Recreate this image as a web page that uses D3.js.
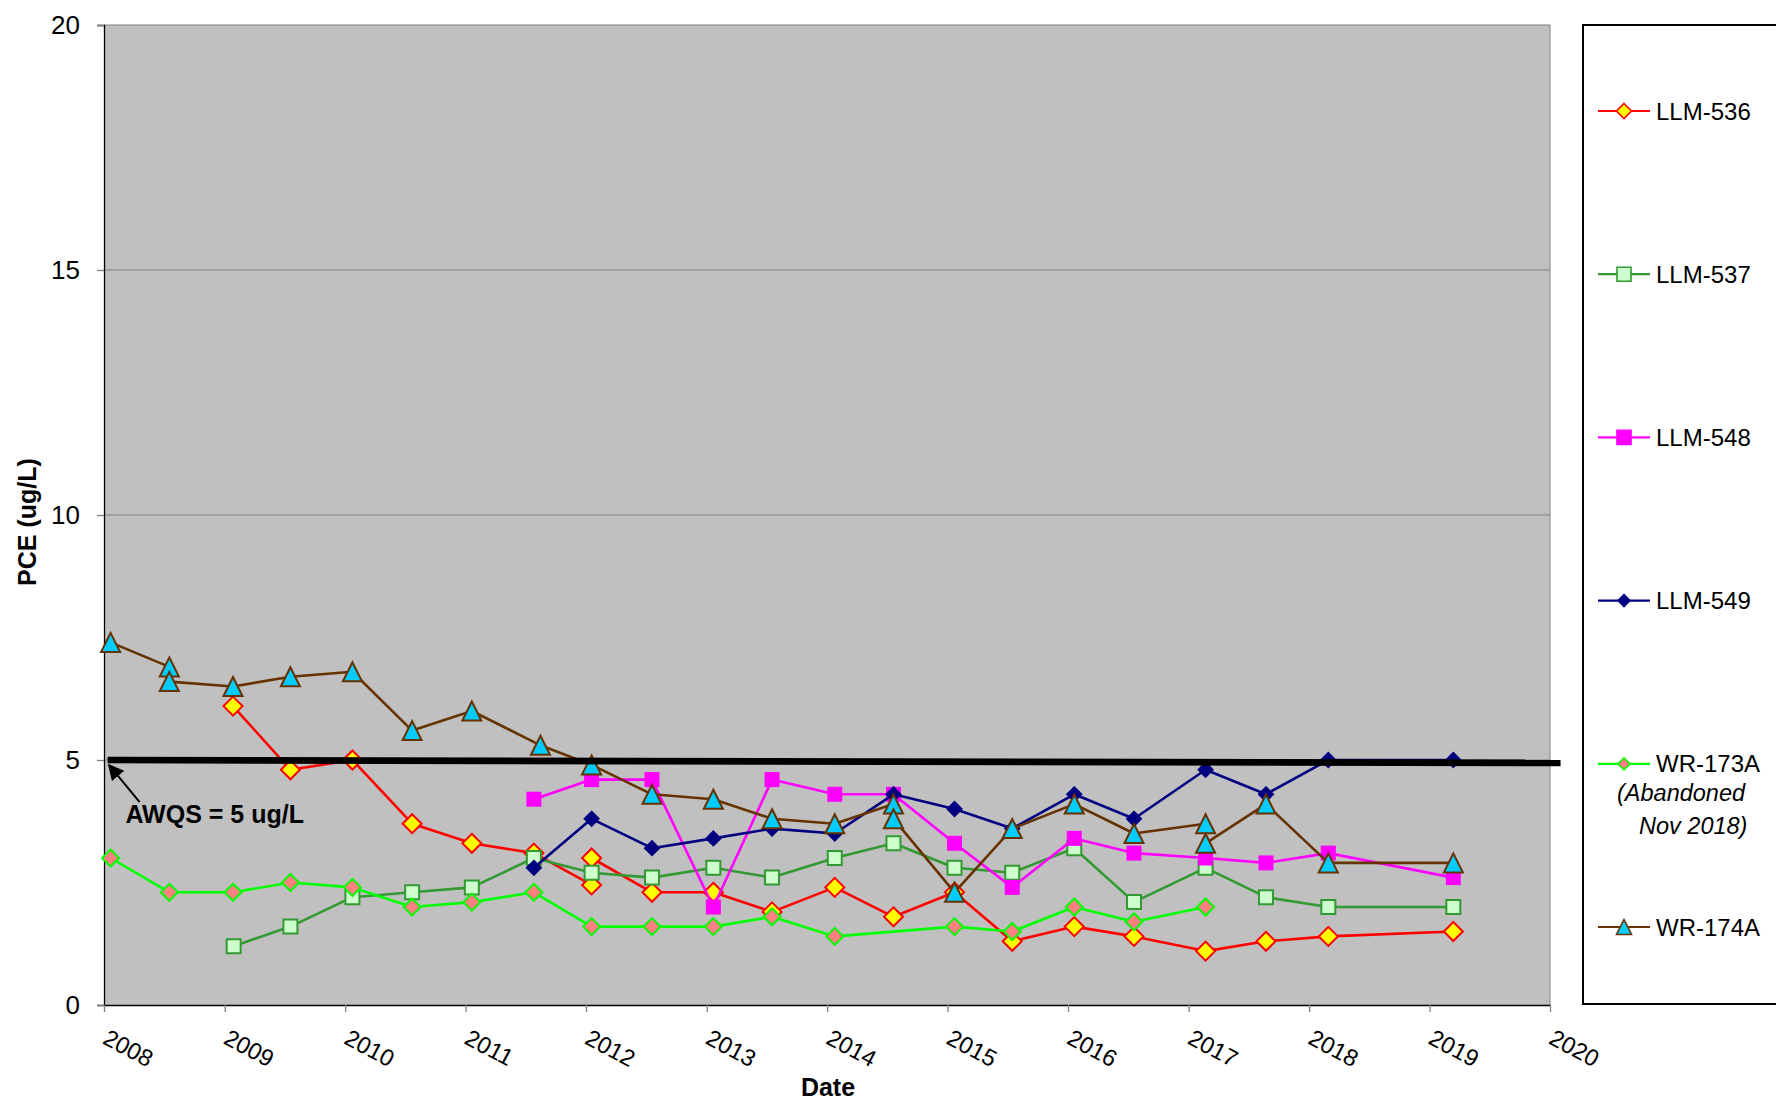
<!DOCTYPE html>
<html>
<head>
<meta charset="utf-8">
<script src="https://cdn.jsdelivr.net/npm/d3@7/dist/d3.min.js"></script>
<style>
  html, body { margin: 0; padding: 0; background: #fff; }
  svg { display: block; font-family: "Liberation Sans", Arial, sans-serif; }
</style>
</head>
<body>
<div id="chart"></div>
<script>
// sample data (PCE, ug/L)
const llm536Dates = ["2009-01-26", "2009-07-19", "2010-01-23", "2010-07-23", "2011-01-20", "2011-07-27", "2012-01-18", "2012-01-18", "2012-07-19", "2013-01-21", "2013-07-18", "2014-01-24", "2014-07-21", "2015-01-22", "2015-07-16", "2016-01-20", "2016-07-19", "2017-02-21", "2017-08-23", "2018-02-28", "2019-03-14"]
const llm536Values = [6.1, 4.8, 5.0, 3.7, 3.3, 3.1, 2.45, 3.0, 2.3, 2.3, 1.9, 2.4, 1.8, 2.3, 1.3, 1.6, 1.4, 1.1, 1.3, 1.4, 1.5]

const llm537Dates = ["2009-01-28", "2009-07-19", "2010-01-23", "2010-07-23", "2011-01-20", "2011-07-27", "2012-01-18", "2012-07-19", "2013-01-21", "2013-07-18", "2014-01-24", "2014-07-21", "2015-01-22", "2015-07-16", "2016-01-20", "2016-07-19", "2017-02-21", "2017-08-23", "2018-02-28", "2019-03-14"]
const llm537Values = [1.2, 1.6, 2.2, 2.3, 2.4, 3.0, 2.7, 2.6, 2.8, 2.6, 3.0, 3.3, 2.8, 2.7, 3.2, 2.1, 2.8, 2.2, 2.0, 2.0]

const llm548Dates = ["2011-07-27", "2012-01-18", "2012-07-19", "2013-01-21", "2013-07-18", "2014-01-24", "2014-07-21", "2015-01-22", "2015-07-16", "2016-01-20", "2016-07-19", "2017-02-21", "2017-08-23", "2018-02-28", "2019-03-14"]
const llm548Values = [4.2, 4.6, 4.6, 2.0, 4.6, 4.3, 4.3, 3.3, 2.4, 3.4, 3.1, 3.0, 2.9, 3.1, 2.6]

const llm549Dates = ["2011-07-27", "2012-01-18", "2012-07-19", "2013-01-21", "2013-07-18", "2014-01-24", "2014-07-21", "2015-01-22", "2015-07-16", "2016-01-20", "2016-07-19", "2017-02-21", "2017-08-23", "2018-02-28", "2019-03-14"]
const llm549Values = [2.8, 3.8, 3.2, 3.4, 3.6, 3.5, 4.3, 4.0, 3.6, 4.3, 3.8, 4.8, 4.3, 5.0, 5.0]

const wr173aDates = ["2008-01-21", "2008-07-17", "2009-01-26", "2009-07-19", "2010-01-23", "2010-07-23", "2011-01-20", "2011-07-27", "2012-01-18", "2012-07-19", "2013-01-21", "2013-07-18", "2014-01-24", "2015-01-22", "2015-07-16", "2016-01-20", "2016-07-19", "2017-02-21"]
const wr173aValues = [3.0, 2.3, 2.3, 2.5, 2.4, 2.0, 2.1, 2.3, 1.6, 1.6, 1.6, 1.8, 1.4, 1.6, 1.5, 2.0, 1.7, 2.0]

const wr174aDates = ["2008-01-21", "2008-07-17", "2008-07-17", "2009-01-26", "2009-07-19", "2010-01-23", "2010-07-23", "2011-01-20", "2011-08-16", "2012-01-18", "2012-07-19", "2013-01-21", "2013-07-18", "2014-01-24", "2014-07-21", "2014-07-21", "2015-01-22", "2015-07-16", "2016-01-20", "2016-07-19", "2017-02-21", "2017-02-21", "2017-08-23", "2018-02-28", "2019-03-14"]
const wr174aValues = [7.4, 6.9, 6.6, 6.5, 6.7, 6.8, 5.6, 6.0, 5.3, 4.9, 4.3, 4.2, 3.8, 3.7, 4.1, 3.8, 2.3, 3.6, 4.1, 3.5, 3.7, 3.3, 4.1, 2.9, 2.9]

// AWQS standard line + label
const awqsDates = ["2008-01-12", "2020-02-02"]
const awqsValues = [5.0, 4.94]
const awqsLabel = "AWQS = 5 ug/L"

const seriesNames = ["LLM-536", "LLM-537", "LLM-548", "LLM-549", "WR-173A", "WR-174A"]
const yTicks = [0, 5, 10, 15, 20]
const xYears = d3.range(2008, 2021)

const width = 1776, height = 1101
const margin = { top: 25, right: 226, bottom: 96, left: 104 }
const plotW = 1550 - margin.left
const plotH = 1005 - margin.top

const parse = d3.timeParse("%Y-%m-%d")

const styles = {
  "LLM-536": { line: "#ff0000", fill: "#ffff00", stroke: "#ff0000", shape: "diamond", size: 19, lsize: 15 },
  "LLM-537": { line: "#339933", fill: "#ccffcc", stroke: "#339933", shape: "square", size: 14, lsize: 14 },
  "LLM-548": { line: "#ff00ff", fill: "#ff00ff", stroke: "#ff00ff", shape: "square", size: 15, lsize: 14 },
  "LLM-549": { line: "#000080", fill: "#000080", stroke: "#000080", shape: "diamond", size: 14, lsize: 12 },
  "WR-173A": { line: "#00ff00", fill: "#ff8080", stroke: "#00ff00", shape: "diamond", size: 17, lsize: 12 },
  "WR-174A": { line: "#663300", fill: "#00ccff", stroke: "#663300", shape: "triangle", size: 19, lsize: 15 }
}

const seriesData = [
  [llm536Dates, llm536Values],
  [llm537Dates, llm537Values],
  [llm548Dates, llm548Values],
  [llm549Dates, llm549Values],
  [wr173aDates, wr173aValues],
  [wr174aDates, wr174aValues]
].map(([ds, vs], i) => ({
  name: seriesNames[i],
  points: ds.map((d, j) => ({ date: parse(d), value: vs[j] }))
}))

function markerPath(shape, s) {
  const r = s / 2
  if (shape === "diamond") return `M0,${-r}L${r},0L0,${r}L${-r},0Z`
  if (shape === "square") return `M${-r},${-r}H${r}V${r}H${-r}Z`
  return `M0,${-r}L${r},${r}L${-r},${r}Z`
}

const x = d3.scaleTime()
  .domain([new Date(2008, 0, 1), new Date(2020, 0, 1)])
  .range([0, plotW])
const y = d3.scaleLinear().domain([0, 20]).range([plotH, 0])

const svg = d3.select("#chart").append("svg")
  .attr("width", width)
  .attr("height", height)
  .attr("viewBox", [0, 0, width, height])

const g = svg.append("g").attr("transform", `translate(${margin.left},${margin.top})`)

// plot background
g.append("rect")
  .attr("width", plotW)
  .attr("height", plotH)
  .attr("fill", "#c0c0c0")

// gridlines
g.append("g")
  .selectAll("line")
  .data(yTicks.filter(d => d > 0))
  .join("line")
  .attr("x1", 0)
  .attr("x2", plotW)
  .attr("y1", d => y(d))
  .attr("y2", d => y(d))
  .attr("stroke", "#808080")
  .attr("stroke-width", 1.2)
g.append("line")
  .attr("x1", plotW).attr("x2", plotW)
  .attr("y1", 0).attr("y2", plotH)
  .attr("stroke", "#808080")

// y axis
g.append("g")
  .call(d3.axisLeft(y).tickValues(yTicks).tickSize(7).tickPadding(17))
  .call(a => a.select(".domain").attr("stroke", "#000").attr("stroke-width", 1.3))
  .call(a => a.selectAll(".tick line").attr("stroke", "#808080").attr("stroke-width", 1.3))
  .call(a => a.selectAll(".tick text")
    .attr("font-size", 26)
    .attr("font-family", "Liberation Sans, Arial, sans-serif")
    .attr("fill", "#000"))

// x axis
g.append("g")
  .attr("transform", `translate(0,${plotH})`)
  .call(d3.axisBottom(x)
    .tickValues(xYears.map(yr => new Date(yr, 0, 1)))
    .tickFormat(d3.timeFormat("%Y"))
    .tickSize(7)
    .tickSizeOuter(0))
  .call(a => a.select(".domain").attr("stroke", "#000").attr("stroke-width", 1.5))
  .call(a => a.selectAll(".tick line").attr("stroke", "#808080").attr("stroke-width", 1.3))
  .call(a => a.selectAll(".tick text")
    .attr("y", null)
    .attr("dy", null)
    .attr("text-anchor", "start")
    .attr("transform", "translate(-3,38) rotate(28)")
    .attr("font-size", 23.5)
    .attr("font-family", "Liberation Sans, Arial, sans-serif")
    .attr("fill", "#000"))

// axis titles
svg.append("text")
  .attr("transform", `translate(36,${margin.top + plotH / 2 + 7}) rotate(-90)`)
  .attr("text-anchor", "middle")
  .attr("font-size", 25)
  .attr("font-weight", "bold")
  .text("PCE (ug/L)")
svg.append("text")
  .attr("x", margin.left + plotW / 2 + 1)
  .attr("y", 1096)
  .attr("text-anchor", "middle")
  .attr("font-size", 25)
  .attr("font-weight", "bold")
  .text("Date")

// series
const line = d3.line().x(d => x(d.date)).y(d => y(d.value))
const seriesG = g.append("g")
  .selectAll("g")
  .data(seriesData)
  .join("g")

seriesG.append("path")
  .attr("fill", "none")
  .attr("stroke", d => styles[d.name].line)
  .attr("stroke-width", 2.6)
  .attr("stroke-linejoin", "round")
  .attr("d", d => line(d.points))

seriesG.each(function (s) {
  const st = styles[s.name]
  d3.select(this)
    .selectAll("path.mk")
    .data(s.points)
    .join("path")
    .attr("class", "mk")
    .attr("transform", d => `translate(${x(d.date)},${y(d.value)})`)
    .attr("d", markerPath(st.shape, st.size))
    .attr("fill", st.fill)
    .attr("stroke", st.stroke)
    .attr("stroke-width", st.shape === "square" && st.fill === st.stroke ? 0 : 2)
})

// AWQS line + arrow
const awqs = awqsDates.map((d, i) => ({ date: parse(d), value: awqsValues[i] }))
g.append("path")
  .attr("fill", "none")
  .attr("stroke", "#000")
  .attr("stroke-width", 6.7)
  .attr("d", line(awqs))

svg.append("defs").append("marker")
  .attr("id", "arrowhead")
  .attr("viewBox", "0 0 10 10")
  .attr("refX", 9)
  .attr("refY", 5)
  .attr("markerWidth", 8)
  .attr("markerHeight", 8)
  .attr("markerUnits", "strokeWidth")
  .attr("orient", "auto")
  .append("path")
  .attr("d", "M0,0L10,5L0,10Z")
  .attr("fill", "#000")

g.append("line")
  .attr("x1", x(parse("2008-04-18")))
  .attr("y1", y(4.14))
  .attr("x2", x(parse("2008-01-16")))
  .attr("y2", y(4.9))
  .attr("stroke", "#000")
  .attr("stroke-width", 2)
  .attr("marker-end", "url(#arrowhead)")

g.append("text")
  .attr("x", x(parse("2008-03-06")))
  .attr("y", y(3.72))
  .attr("font-size", 25)
  .attr("font-weight", "bold")
  .text(awqsLabel)

// legend
const legend = svg.append("g").attr("transform", "translate(1583,25)")
legend.append("rect")
  .attr("width", 260)
  .attr("height", 979)
  .attr("fill", "#fff")
  .attr("stroke", "#000")
  .attr("stroke-width", 2)

const legendY = d3.scalePoint().domain(seriesNames).range([86, 902])
const item = legend.selectAll("g.item")
  .data(seriesNames)
  .join("g")
  .attr("class", "item")
  .attr("transform", d => `translate(0,${legendY(d)})`)
item.append("line")
  .attr("x1", 15).attr("x2", 67)
  .attr("stroke", d => styles[d].line)
  .attr("stroke-width", 2.2)
item.append("path")
  .attr("transform", "translate(41,0)")
  .attr("d", d => markerPath(styles[d].shape, styles[d].lsize))
  .attr("fill", d => styles[d].fill)
  .attr("stroke", d => styles[d].stroke)
  .attr("stroke-width", 1.6)
item.append("text")
  .attr("x", 73)
  .attr("y", 8.5)
  .attr("font-size", 24)
  .text(d => d)

const note = legend.append("g")
  .attr("transform", `translate(0,${legendY("WR-173A")})`)
  .attr("font-size", 23.5)
  .attr("font-style", "italic")
note.append("text").attr("x", 34).attr("y", 37).text("(Abandoned")
note.append("text").attr("x", 56).attr("y", 70).text("Nov 2018)")
</script>
</body>
</html>
